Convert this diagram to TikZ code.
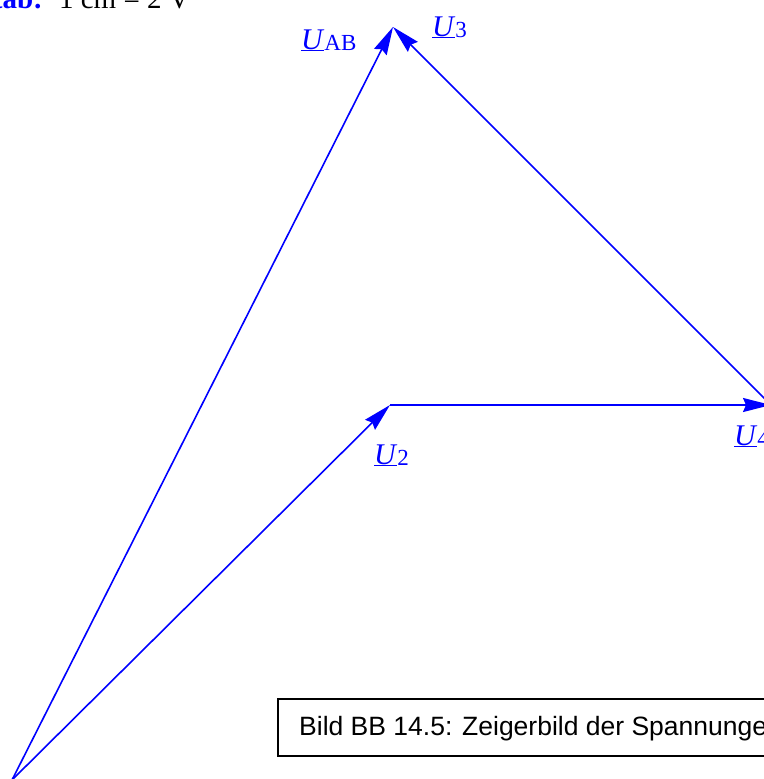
\documentclass[tikz,border=0pt]{standalone}
\usepackage{fontspec}
\setmainfont{Liberation Serif}
\newfontfamily\capfont{Liberation Sans}
\usetikzlibrary{arrows.meta}

\tikzset{
  zeiger/.style={blue, line width=1.6pt, -{Stealth[length=28pt, width=14pt, inset=3pt]}},
  zlabel/.style={blue, inner sep=0pt, anchor=base west, font=\fontsize{30}{30}\selectfont},
}
\newcommand{\zU}[1]{\underline{\textit{U}}\raisebox{-1.5pt}{\fontsize{23}{23}\selectfont #1}}

\begin{document}
\begin{tikzpicture}[x=1pt, y=-1pt]
	\useasboundingbox (0,0) rectangle (763,779);
	
	% Massstab
	\node[inner sep=0pt, anchor=base east, text=blue, font=\fontsize{29}{29}\selectfont\bfseries] (mass) at (43,9) {Maßstab:};
	\node[inner sep=0pt, anchor=base east, font=\fontsize{29}{29}\selectfont] (mwert) at (190,9) {1 cm = 2 V};
	
	% Zeiger
	\coordinate (O) at (12,780);
	\coordinate (A) at (393,27);
	\coordinate (P) at (390,405);
	\coordinate (Q) at (771,405);
	\draw[zeiger] (O) -- (A);
	\draw[zeiger] (O) -- (P);
	\draw[zeiger] (P) -- (Q);
	\draw[zeiger] (Q) -- (A);
	
	\node[zlabel] (uab) at (301,49) {\zU{AB}};
	\node[zlabel] (u3) at (432,36) {\zU{3}};
	\node[zlabel] (u2) at (374,464) {\zU{2}};
	\node[zlabel] (u4) at (734,445) {\zU{4}};
	
	% Bildunterschrift
	\draw[line width=1.3pt] (278,699) rectangle (840,756);
	\node[inner sep=0pt, anchor=base west, font=\capfont\fontsize{26.5}{26.5}\selectfont] (bild) at (299,735) {Bild BB 14.5: Zeigerbild der Spannungen};
\end{tikzpicture}
\end{document}
